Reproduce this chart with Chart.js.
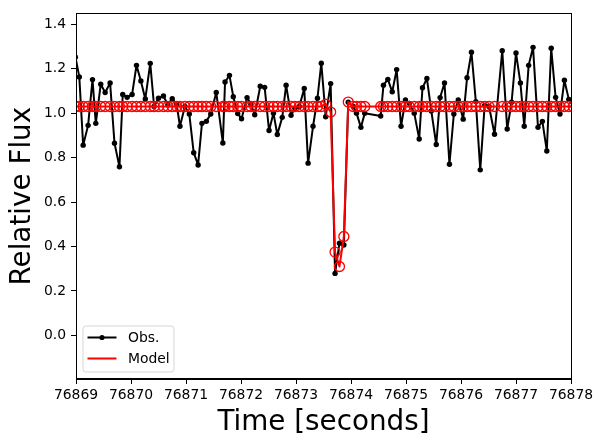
<!DOCTYPE html>
<html>
<head>
<meta charset="utf-8">
<script src="https://cdn.jsdelivr.net/npm/chart.js@4/dist/chart.umd.min.js"></script>
<style>
html,body{margin:0;padding:0;background:#fff;}
#wrap{width:603px;height:446px;}
</style>
</head>
<body>
<div id="wrap"><canvas id="c" width="603" height="446"></canvas></div>
<script>
// Observation times (seconds)
const times = [
76868.99,76869.06,76869.13,76869.22,76869.30,76869.36,76869.45,76869.53,76869.62,76869.70,
76869.79,76869.85,76869.93,76870.02,76870.10,76870.18,76870.26,76870.35,76870.42,76870.50,
76870.59,76870.67,76870.75,76870.83,76870.89,76870.98,76871.06,76871.14,76871.22,76871.29,
76871.37,76871.45,76871.55,76871.67,76871.71,76871.79,76871.86,76871.94,76872.01,76872.11,
76872.18,76872.25,76872.35,76872.43,76872.51,76872.59,76872.66,76872.75,76872.82,76872.91,
76872.98,76873.06,76873.15,76873.22,76873.31,76873.39,76873.46,76873.54,76873.63,76873.71,
76873.79,76873.87,76873.95,76874.04,76874.10,76874.18,76874.25,76874.54,76874.59,76874.67,
76874.75,76874.83,76874.91,76874.99,76875.06,76875.15,76875.24,76875.30,76875.38,76875.46,
76875.55,76875.62,76875.70,76875.79,76875.87,76875.95,76876.04,76876.11,76876.19,76876.27,
76876.35,76876.43,76876.51,76876.61,76876.75,76876.84,76876.92,76877.00,76877.08,76877.15,
76877.23,76877.31,76877.40,76877.48,76877.56,76877.64,76877.72,76877.80,76877.88,76877.96,
76878.04
];
// Observed relative flux
const obsFlux = [
1.252,1.163,0.856,0.945,1.151,0.954,1.130,1.093,1.136,0.865,
0.759,1.084,1.071,1.084,1.215,1.145,1.064,1.224,1.030,1.067,
1.077,1.037,1.065,1.040,0.941,1.030,0.996,0.822,0.767,0.954,
0.963,0.996,1.093,0.866,1.140,1.170,1.074,0.998,0.975,1.070,
1.040,0.993,1.121,1.116,0.922,1.000,0.904,0.981,1.126,0.990,
1.022,1.030,1.111,0.775,0.941,1.067,1.225,0.984,1.133,0.279,
0.415,0.407,1.049,1.030,1.000,0.936,1.000,0.987,1.126,1.152,
1.096,1.196,0.941,1.059,1.044,1.000,0.884,1.114,1.156,1.010,
0.859,1.070,1.136,0.770,0.996,1.059,0.973,1.159,1.274,1.052,
0.745,1.035,1.030,0.905,1.281,0.929,1.049,1.271,1.136,0.941,
1.215,1.296,0.936,0.963,0.830,1.292,1.071,0.996,1.148,1.062,
1.030
];
// Model relative flux
const modelFlux = [
1.03,1.03,1.03,1.03,1.03,1.03,1.03,1.03,1.03,1.03,
1.03,1.03,1.03,1.03,1.03,1.03,1.03,1.03,1.03,1.03,
1.03,1.03,1.03,1.03,1.03,1.03,1.03,1.03,1.03,1.03,
1.03,1.03,1.03,1.03,1.03,1.03,1.03,1.03,1.03,1.03,
1.03,1.03,1.03,1.03,1.03,1.03,1.03,1.03,1.03,1.03,
1.03,1.03,1.03,1.03,1.03,1.03,1.03,1.04,1.005,0.375,
0.31,0.445,1.05,1.03,1.03,1.03,1.03,1.03,1.03,1.03,
1.03,1.03,1.03,1.03,1.03,1.03,1.03,1.03,1.03,1.03,
1.03,1.03,1.03,1.03,1.03,1.03,1.03,1.03,1.03,1.03,
1.03,1.03,1.03,1.03,1.03,1.03,1.03,1.03,1.03,1.03,
1.03,1.03,1.03,1.03,1.03,1.03,1.03,1.03,1.03,1.03,
1.03
];
const xTicks = [76869,76870,76871,76872,76873,76874,76875,76876,76877,76878];
const yTicks = [0.0,0.2,0.4,0.6,0.8,1.0,1.2,1.4];
const legendLabels = ['Obs.','Model'];

const obsData = times.map((t,i)=>({x:t,y:obsFlux[i]}));
const modelData = times.map((t,i)=>({x:t,y:modelFlux[i]}));

const FONT = 'DejaVu Sans';

const framePlugin = {
  id:'frame',
  afterDatasetsDraw(chart){
    const {ctx, chartArea:a} = chart;
    ctx.save();
    ctx.strokeStyle='#000';
    ctx.lineWidth=1;
    ctx.strokeRect(Math.round(a.left)+0.5, Math.round(a.top)+0.5, Math.round(a.right-a.left), Math.round(a.bottom-a.top));
    ctx.restore();
  },
  afterDraw(chart){
    const {ctx, chartArea:a} = chart;
    ctx.save();
    const bx=a.left+7, bw=91, bh=46, by=a.bottom-7-bh;
    ctx.beginPath();
    const r=3;
    ctx.moveTo(bx+r,by);
    ctx.lineTo(bx+bw-r,by); ctx.arcTo(bx+bw,by,bx+bw,by+r,r);
    ctx.lineTo(bx+bw,by+bh-r); ctx.arcTo(bx+bw,by+bh,bx+bw-r,by+bh,r);
    ctx.lineTo(bx+r,by+bh); ctx.arcTo(bx,by+bh,bx,by+bh-r,r);
    ctx.lineTo(bx,by+r); ctx.arcTo(bx,by,bx+r,by,r);
    ctx.closePath();
    ctx.fillStyle='rgba(255,255,255,0.8)';
    ctx.fill();
    ctx.strokeStyle='rgba(204,204,204,0.8)';
    ctx.lineWidth=1;
    ctx.stroke();
    const hx0=a.left+11.5, hx1=a.left+40.5;
    const rows=[by+11.5, by+32.5];
    // Obs handle
    ctx.strokeStyle='#000'; ctx.lineWidth=2;
    ctx.beginPath(); ctx.moveTo(hx0,rows[0]); ctx.lineTo(hx1,rows[0]); ctx.stroke();
    ctx.fillStyle='#000';
    ctx.beginPath(); ctx.arc((hx0+hx1)/2,rows[0],2.6,0,Math.PI*2); ctx.fill();
    // Model handle
    ctx.strokeStyle='#ff0000'; ctx.lineWidth=2;
    ctx.beginPath(); ctx.moveTo(hx0,rows[1]); ctx.lineTo(hx1,rows[1]); ctx.stroke();
    ctx.fillStyle='#000';
    ctx.font='13.9px "'+FONT+'"';
    ctx.textBaseline='middle';
    ctx.textAlign='left';
    ctx.fillText(legendLabels[0], a.left+52, rows[0]+1);
    ctx.fillText(legendLabels[1], a.left+52, rows[1]+1);
    ctx.restore();
  }
};

new Chart(document.getElementById('c'), {
  type:'line',
  data:{
    datasets:[
      {
        label:legendLabels[0], data:obsData, order:3,
        borderColor:'#000', backgroundColor:'#000', borderWidth:2,
        pointRadius:2.7, pointBorderWidth:0, pointBackgroundColor:'#000',
        tension:0, fill:false
      },
      {
        label:legendLabels[1], data:modelData, order:1,
        borderColor:'#ff0000', borderWidth:2,
        pointRadius:5, pointBorderWidth:1.3, pointBorderColor:'#ff0000',
        pointBackgroundColor:'rgba(0,0,0,0)',
        tension:0, fill:false
      }
    ]
  },
  options:{
    responsive:false, animation:false, devicePixelRatio:1,
    layout:{padding:{left:0,right:32,top:9,bottom:0}},
    plugins:{legend:{display:false}, tooltip:{enabled:false}},
    elements:{line:{borderJoinStyle:'round', borderCapStyle:'round'}},
    scales:{
      x:{
        type:'linear', min:76869, max:76878,
        afterBuildTicks(s){ s.ticks = xTicks.map(v=>({value:v})); },
        afterFit(s){ s.height = 67; },
        ticks:{ color:'#000', font:{family:FONT,size:13.9}, padding:3, maxRotation:0, autoSkip:false,
          callback:(v)=>String(v) },
        grid:{ drawOnChartArea:false, drawTicks:true, tickLength:5, color:'#000', tickWidth:1 },
        border:{ display:true, color:'#000', width:1 },
        title:{ display:true, text:'Time [seconds]', color:'#000', font:{family:FONT,size:27.8}, padding:{top:0,bottom:7} }
      },
      y:{
        type:'linear', min:-0.196, max:1.449,
        afterBuildTicks(s){ s.ticks = yTicks.map(v=>({value:v})); },
        afterFit(s){ s.width = 76; },
        ticks:{ color:'#000', font:{family:FONT,size:13.9}, padding:5, autoSkip:false,
          callback:(v)=>Number(v).toFixed(1) },
        grid:{ drawOnChartArea:false, drawTicks:true, tickLength:5, color:'#000', tickWidth:1 },
        border:{ display:true, color:'#000', width:1 },
        title:{ display:true, text:'Relative Flux', color:'#000', font:{family:FONT,size:27.8}, padding:{top:6,bottom:0} }
      }
    }
  },
  plugins:[framePlugin]
});
</script>
</body>
</html>
